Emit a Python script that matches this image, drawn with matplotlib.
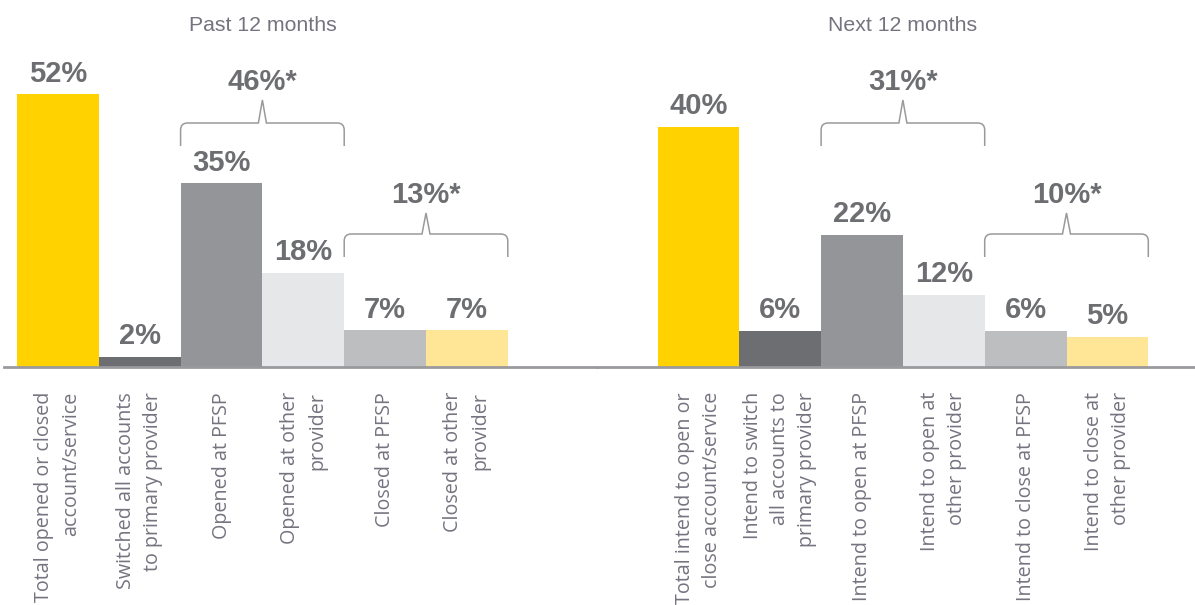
import matplotlib
matplotlib.use("Agg")
import matplotlib.pyplot as plt
from matplotlib.path import Path
from matplotlib.patches import PathPatch
from matplotlib.transforms import blended_transform_factory

# Share of respondents, past 12 months vs. intentions for the next 12 months
past_labels = [
    "Total opened or closed\naccount/service",
    "Switched all accounts\nto primary provider",
    "Opened at PFSP",
    "Opened at other\nprovider",
    "Closed at PFSP",
    "Closed at other\nprovider",
]
past_values = [52, 2, 35, 18, 7, 7]
past_brackets = [(46, 2, 3), (13, 4, 5)]  # (total, first bar, last bar)

next_labels = [
    "Total intend to open or\nclose account/service",
    "Intend to switch\nall accounts to\nprimary provider",
    "Intend to open at PFSP",
    "Intend to open at\nother provider",
    "Intend to close at PFSP",
    "Intend to close at\nother provider",
]
next_values = [40, 6, 22, 12, 6, 5]
next_brackets = [(31, 2, 3), (10, 4, 5)]

bar_colors = ["#FFD200", "#6D6E71", "#939598", "#E6E7E8", "#BCBEC0", "#FFE696"]
TEXT_GRAY = "#747480"
VALUE_GRAY = "#6D6E71"
LINE_GRAY = "#9A9A9E"

W, H = 1195, 605
UNIT = 81.8          # pixels per bar
BASE_PX = 238        # baseline height from figure bottom
AX_H = H - BASE_PX


def draw_bracket(ax, x0, x1, y_end, y_mid, y_peak, color):
    """Curly brace over bars x0..x1, y given as axes fraction."""
    trans = blended_transform_factory(ax.transData, ax.transAxes)
    rx = 7 / UNIT
    ry = 7 / AX_H
    xc = (x0 + x1) / 2
    notch = 4 / UNIT
    verts = [
        (x0, y_end), (x0, y_mid - ry),
        (x0, y_mid), (x0 + rx, y_mid),
        (xc - notch, y_mid), (xc, y_peak), (xc + notch, y_mid),
        (x1 - rx, y_mid),
        (x1, y_mid), (x1, y_mid - ry),
        (x1, y_end),
    ]
    codes = [
        Path.MOVETO, Path.LINETO,
        Path.CURVE3, Path.CURVE3,
        Path.LINETO, Path.LINETO, Path.LINETO,
        Path.LINETO,
        Path.CURVE3, Path.CURVE3,
        Path.LINETO,
    ]
    ax.add_patch(PathPatch(Path(verts, codes), transform=trans, fill=False,
                           edgecolor=color, linewidth=1.1, clip_on=False))


def draw_group(ax, labels, values, brackets, subtitle, px_per_pct):
    xs = range(len(values))
    ax.bar(xs, values, width=1.0, color=bar_colors, edgecolor="none")
    ax.set_ylim(0, AX_H / px_per_pct)

    for x, v in zip(xs, values):
        ax.annotate(f"{v}%", xy=(x, v), xytext=(0, 9), textcoords="offset points",
                    ha="center", va="baseline", fontsize=21, fontweight="bold",
                    family=["Liberation Sans", "DejaVu Sans"], color=VALUE_GRAY)

    for x, lab in zip(xs, labels):
        ax.annotate(lab, xy=(x, 0), xycoords=("data", "axes fraction"),
                    xytext=(0, -18), textcoords="offset points",
                    rotation=90, ha="center", va="top", multialignment="right",
                    fontsize=14.2, linespacing=1.48,
                    family=["Open Sans", "DejaVu Sans"], color=TEXT_GRAY,
                    annotation_clip=False)

    # upper brace sits higher than the lower one
    levels = [(221 / AX_H, 244 / AX_H, 267 / AX_H), (110 / AX_H, 133 / AX_H, 154 / AX_H)]
    for (total, a, b), (y_end, y_mid, y_peak) in zip(brackets, levels):
        draw_bracket(ax, a - 0.5, b + 0.5, y_end, y_mid, y_peak, LINE_GRAY)
        ax.annotate(f"{total}%*", xy=((a + b) / 2, y_peak),
                    xycoords=("data", "axes fraction"),
                    xytext=(0, 7), textcoords="offset points",
                    ha="center", va="baseline", fontsize=21, fontweight="bold",
                    family=["Liberation Sans", "DejaVu Sans"], color=VALUE_GRAY)

    ax.annotate(subtitle, xy=(2.5, 1), xycoords=("data", "axes fraction"),
                xytext=(0, -22), textcoords="offset points",
                ha="center", va="baseline", fontsize=15.3,
                family=["Liberation Sans", "DejaVu Sans"], color=TEXT_GRAY)

    for side in ("left", "right", "top"):
        ax.spines[side].set_visible(False)
    ax.spines["bottom"].set_color(LINE_GRAY)
    ax.spines["bottom"].set_linewidth(2.0)
    ax.set_xticks([])
    ax.set_yticks([])


fig = plt.figure(figsize=(W / 100, H / 100), dpi=100)

# left panel: first bar edge at x=17px, axes starts at 4px
left_px, left_w = 4, 593
ax1 = fig.add_axes([left_px / W, BASE_PX / H, left_w / W, AX_H / H])
x0 = -0.5 - (17 - left_px) / UNIT
ax1.set_xlim(x0, x0 + left_w / UNIT)
draw_group(ax1, past_labels, past_values, past_brackets, "Past 12 months", 5.25)

# right panel: first bar edge at x=657px
right_px, right_w = 597, 598
ax2 = fig.add_axes([right_px / W, BASE_PX / H, right_w / W, AX_H / H])
x0 = -0.5 - (657.5 - right_px) / UNIT
ax2.set_xlim(x0, x0 + right_w / UNIT)
draw_group(ax2, next_labels, next_values, next_brackets, "Next 12 months", 6.0)

fig.savefig("out.png", dpi=100)
